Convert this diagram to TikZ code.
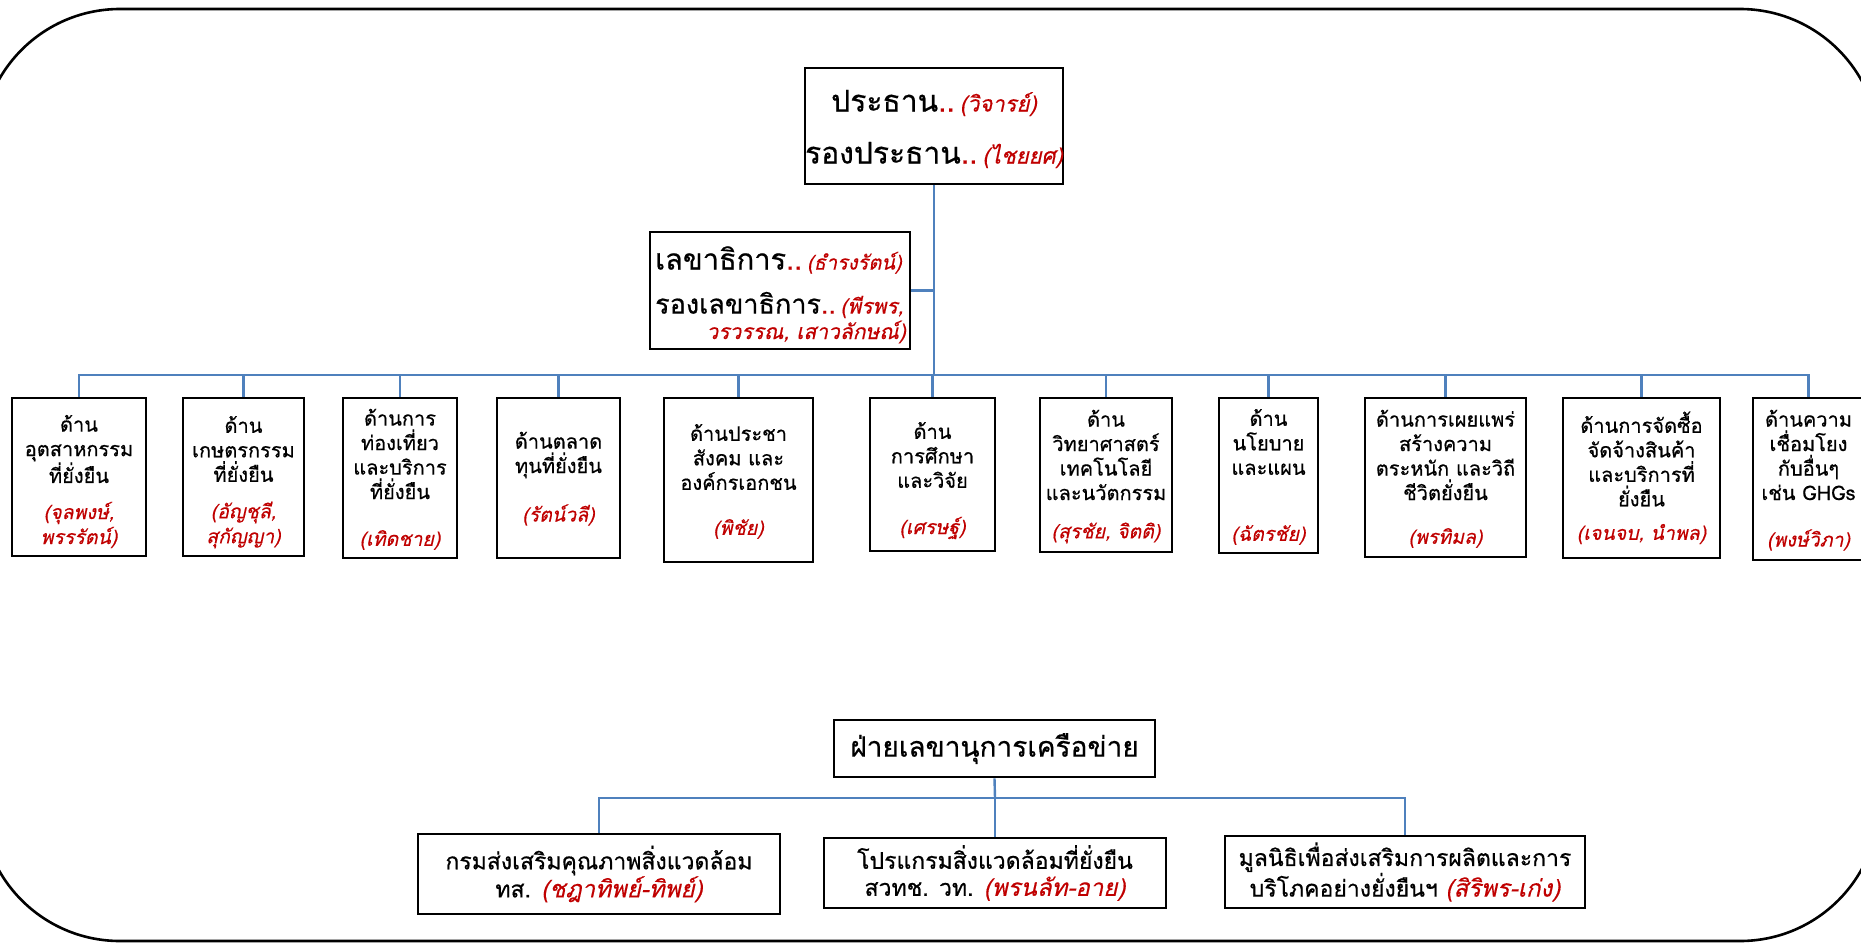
\documentclass[tikz,border=0pt]{standalone}
\usepackage{fontspec}
\usetikzlibrary{fit,calc}
\newfontfamily\thai[Script=Thai,FakeBold=0.6]{Loma}
\newfontfamily\thaiit[Script=Thai,FakeSlant=0.22,FakeBold=0.4]{Loma}
\definecolor{nred}{HTML}{C00000}
\definecolor{lblue}{HTML}{4F81BD}
\tikzset{
  box/.style={draw=black, line width=2.6pt, fill=white, inner sep=0pt},
  conn/.style={draw=lblue, line width=2.4pt},
  ctext/.style={font=\thai\fontsize{20}{24.5}\selectfont, align=center, inner sep=0pt},
  cname/.style={font=\thaiit\fontsize{19.5}{25}\selectfont, text=nred, align=center, inner sep=0pt},
  btext/.style={font=\thai\fontsize{23}{27}\selectfont, align=center, inner sep=0pt},
  htext/.style={font=\thai\fontsize{30}{36}\selectfont, inner sep=0pt},
}
\newcommand\rn[1]{{\color{nred}\thaiit\fontsize{24}{27}\selectfont #1}}
% name, x1, y1, x2, y2, main text, main y, name text, name y
\newcommand\orgbox[9]{%
  \node[box, fit={(#2,#3) (#4,#5)}] (#1) {};
  \node[ctext] (#1t) at ($(#2,#7)!0.5!(#4,#7)$) {#6};
  \node[cname] (#1n) at ($(#2,#9)!0.5!(#4,#9)$) {#8};
}
\begin{document}
\begin{tikzpicture}[x=1pt,y=-1pt]
\useasboundingbox (0,0) rectangle (1861,943);
\draw[line width=2.6pt, rounded corners=139pt] (-19,9) rectangle (1879,941);

% top
\node[box, fit={(805,68) (1063,184)}] (top) {};
\node[htext] (topa) at (934,103) {ประธาน{\color{nred}..\,\fontsize{22}{26}\selectfont\thaiit (วิจารย์)}};
\node[htext] (topb) at (934,155) {รองประธาน{\color{nred}..\,\fontsize{22}{26}\selectfont\thaiit (ไชยยศ)}};

\node[box, fit={(650,232) (910,349)}] (sec) {};
\node[htext, anchor=west, font=\thai\fontsize{29}{34}\selectfont] (seca) at (655,260) {เลขาธิการ{\color{nred}..\,\fontsize{20}{24}\selectfont\thaiit (ธำรงรัตน์)}};
\node[htext, anchor=west, font=\thai\fontsize{27}{32}\selectfont] (secb) at (655,305) {รองเลขาธิการ{\color{nred}..\,\fontsize{21}{26}\selectfont\thaiit (พีรพร,}};
\node[htext, anchor=east, text=nred, font=\thaiit\fontsize{21}{26}\selectfont] (secc) at (906,332) {วรวรรณ, เสาวลักษณ์)};

\coordinate (bus) at (934,375);
\draw[conn] (top.south) -- (bus);
\draw[conn] (sec.east) -- (sec.east -| top.south);

\orgbox{b1}{12}{398}{146}{556}{ด้าน\\อุตสาหกรรม\\ที่ยั่งยืน}{449}{(จุลพงษ์,\\พรรรัตน์)}{525}
\orgbox{b2}{183}{398}{304}{556}{ด้าน\\เกษตรกรรม\\ที่ยั่งยืน}{449}{(อัญชุลี,\\สุกัญญา)}{525}
\orgbox{b3}{343}{398}{457}{558}{ด้านการ\\ท่องเที่ยว\\และบริการ\\ที่ยั่งยืน}{454}{(เทิดชาย)}{540}
\orgbox{b4}{497}{398}{620}{558}{ด้านตลาด\\ทุนที่ยั่งยืน}{455}{(รัตน์วลี)}{515}
\orgbox{b5}{664}{398}{813}{562}{ด้านประชา\\สังคม และ\\องค์กรเอกชน}{457}{(พิชัย)}{529}
\orgbox{b6}{870}{398}{995}{551}{ด้าน\\การศึกษา\\และวิจัย}{455}{(เศรษฐ์)}{528}
\orgbox{b7}{1040}{398}{1172}{552}{ด้าน\\วิทยาศาสตร์\\เทคโนโลยี\\และนวัตกรรม}{455}{(สุรชัย, จิตติ)}{533}
\orgbox{b8}{1219}{398}{1318}{553}{ด้าน\\นโยบาย\\และแผน}{442}{(ฉัตรชัย)}{535}
\orgbox{b9}{1365}{398}{1526}{557}{ด้านการเผยแพร่\\สร้างความ\\ตระหนัก และวิถี\\ชีวิตยั่งยืน}{455}{(พรทิมล)}{538}
\orgbox{b10}{1563}{398}{1720}{558}{ด้านการจัดซื้อ\\จัดจ้างสินค้า\\และบริการที่\\ยั่งยืน}{459}{(เจนจบ, นำพล)}{534}
\orgbox{b11}{1753}{398}{1864}{560}{ด้านความ\\เชื่อมโยง\\กับอื่นๆ\\เช่น GHGs}{455}{(พงษ์วิภา)}{540}

\foreach \b in {b1,b2,b3,b4,b5,b6,b7,b8,b9,b10,b11}{
  \draw[conn] (\b.north) |- (bus);
}

% bottom
\node[box, fit={(834,720) (1155,777)}] (net) {};
\node[htext, font=\thai\fontsize{28}{32}\selectfont] (nett) at (net.center) {ฝ่ายเลขานุการเครือข่าย};
\coordinate (nbus) at (995,798);
\draw[conn] (net.south) -- (nbus);

\node[box, fit={(418,834) (780,914)}] (c1) {};
\node[btext] (c1t) at (c1.center) {กรมส่งเสริมคุณภาพสิ่งแวดล้อม\\ทส. \rn{(ชฎาทิพย์-ทิพย์)}};
\node[box, fit={(824,838) (1166,908)}] (c2) {};
\node[btext] (c2t) at (c2.center) {โปรแกรมสิ่งแวดล้อมที่ยั่งยืน\\สวทช. วท. \rn{(พรนลัท-อาย)}};
\node[box, fit={(1225,836) (1585,908)}] (c3) {};
\node[btext] (c3t) at (c3.center) {มูลนิธิเพื่อส่งเสริมการผลิตและการ\\บริโภคอย่างยั่งยืนฯ \rn{(สิริพร-เก่ง)}};

\foreach \c in {c1,c2,c3}{
  \draw[conn] (\c.north) |- (nbus);
}
\end{tikzpicture}
\end{document}
